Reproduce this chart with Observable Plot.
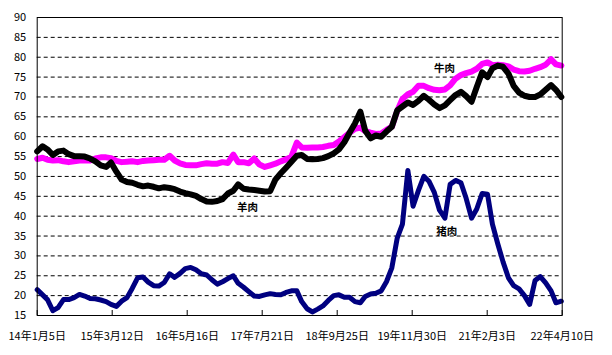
<!DOCTYPE html>
<html><head><meta charset="utf-8">
<script src="https://cdn.jsdelivr.net/npm/d3@7"></script>
<script src="https://cdn.jsdelivr.net/npm/@observablehq/plot@0.6"></script>
<style>body{margin:0;background:#fff}</style>
</head><body><div id="chart"></div>
<script>
const startDate = "2014-01-05";
const endDate = "2022-04-10";
const tickDates = ["2014-01-05","2015-03-12","2016-05-16","2017-07-21","2018-09-25","2019-11-30","2021-02-03","2022-04-10"];
const tickLabels = ["14年1月5日","15年3月12日","16年5月16日","17年7月21日","18年9月25日","19年11月30日","21年2月3日","22年4月10日"];
const yTicks = [15,20,25,30,35,40,45,50,55,60,65,70,75,80,85,90];
const gridValues = [20,25,30,35,40,45,50,55,60,65,70,75,80,85];

// monthly readings (5th of each month from 2014-01)
const beef = [54.4,54.7,54.2,54.0,54.1,53.8,53.6,53.8,54.0,54.0,54.0,54.5,54.8,54.8,54.6,53.9,53.6,53.7,53.8,53.6,
53.9,54.0,54.1,54.2,54.2,55.2,54.0,53.3,52.9,52.8,52.8,53.1,53.3,53.2,53.2,53.6,53.4,55.5,53.6,53.6,
53.3,54.5,53.0,52.4,52.8,53.2,53.8,54.3,55.0,58.5,57.3,57.2,57.3,57.3,57.4,57.7,57.9,58.8,59.9,61.0,
62.0,62.3,61.4,61.0,60.7,60.8,61.7,62.5,66.5,69.5,70.7,71.3,72.8,72.8,72.2,71.8,71.7,71.9,72.9,74.6,
75.5,76.0,76.4,77.1,78.3,78.7,78.0,78.1,78.0,77.7,76.9,76.5,76.4,76.6,77.1,77.5,78.1,79.5,78.2,77.9];
const mutton = [56.3,57.6,56.8,55.4,56.3,56.5,55.6,55.1,55.1,55.0,54.5,53.8,52.8,52.4,53.5,51.2,49.2,48.6,48.4,47.9,
47.5,47.7,47.4,47.0,47.3,47.1,46.8,46.2,45.8,45.5,45.1,44.3,43.7,43.6,43.8,44.3,45.7,46.4,48.0,46.9,
46.7,46.6,46.4,46.2,46.3,49.2,50.8,52.2,53.7,55.2,55.4,54.4,54.3,54.4,54.6,55.1,55.8,56.8,58.6,61.0,
63.3,66.3,61.5,59.6,60.3,60.0,61.3,62.5,66.6,67.6,68.6,68.0,69.0,70.3,69.3,68.1,67.2,67.9,69.2,70.5,
71.3,70.2,68.8,72.5,76.2,75.0,77.2,77.9,77.6,75.9,72.8,71.1,70.3,70.0,70.0,70.6,71.8,73.0,71.8,70.0];
const pork = [21.5,20.2,19.0,16.2,17.0,19.0,19.0,19.5,20.3,19.9,19.3,19.2,18.9,18.5,17.8,17.3,18.6,19.5,21.8,24.5,
24.7,23.4,22.5,22.4,23.3,25.5,24.6,25.6,26.8,27.1,26.5,25.5,25.2,24.0,22.9,23.5,24.3,25.0,23.1,22.1,
21.0,19.9,19.8,20.2,20.5,20.3,20.2,20.8,21.2,21.2,18.5,16.7,15.9,16.6,17.4,18.8,20.0,20.2,19.6,19.6,
18.5,18.2,19.8,20.4,20.6,21.2,23.5,27.0,34.5,38.0,51.5,42.5,46.5,50.0,48.8,46.0,41.5,39.5,48.0,49.0,
48.4,44.5,39.5,41.8,45.7,45.5,38.0,33.0,28.5,24.5,22.5,21.7,20.0,17.8,23.8,24.8,23.2,21.2,18.2,18.6];

const seriesNames = ["猪肉","牛肉","羊肉"];
const seriesColors = ["#000080","#ff00ff","#000000"];
const labelNames = ["牛肉","羊肉","猪肉"];
const labelDates = ["2020-06-03","2017-04-27","2020-06-15"];
const labelValues = [77.2, 42.2, 36.1];

const start = new Date(startDate);
const seriesData = [pork, beef, mutton];
const rows = [];
seriesData.forEach((vals, s) => vals.forEach((v, i) => rows.push({series: seriesNames[s], date: d3.utcMonth.offset(start, i), value: v})));
const labels = labelNames.map((n, i) => ({name: n, date: new Date(labelDates[i]), value: labelValues[i]}));
const ticksD = tickDates.map(d => new Date(d));
const labelMap = new Map(ticksD.map((d, i) => [+d, tickLabels[i]]));

const chart = Plot.plot({
  width: 612, height: 355,
  marginLeft: 36.7, marginRight: 50.3, marginTop: 17, marginBottom: 40,
  x: {type: "utc", domain: [start, new Date(endDate)]},
  y: {domain: [15, 90]},
  color: {domain: seriesNames, range: seriesColors},
  style: {fontFamily: "'Liberation Sans Narrow', 'Noto Sans CJK JP', sans-serif", fontSize: "11px", background: "#fff", color: "#000"},
  marks: [
    Plot.ruleY(gridValues, {stroke: "#000", strokeDasharray: "4,3", strokeWidth: 1}),
    Plot.line(rows, {x: "date", y: "value", z: "series", stroke: "series", strokeWidth: d => d.series === "猪肉" ? 5 : 6, strokeLinejoin: "round", strokeLinecap: "round"}),
    Plot.ruleX(ticksD, {y1: 15, y2: 16.26, stroke: "#000"}),
    Plot.frame({stroke: "#000", strokeWidth: 1}),
    Plot.axisY(yTicks, {tickSize: 0, tickPadding: 11, label: null, fontSize: 11}),
    Plot.axisX(ticksD, {tickSize: 0, tickPadding: 17, label: null, fontSize: 11, tickFormat: d => labelMap.get(+d)}),
    Plot.text(labels, {x: "date", y: "value", text: "name", fontWeight: "bold", fontSize: 10.5, fontFamily: "'Noto Sans CJK JP', sans-serif", fill: "#000"})
  ]
});
document.getElementById("chart").appendChild(chart);
</script>
</body></html>
